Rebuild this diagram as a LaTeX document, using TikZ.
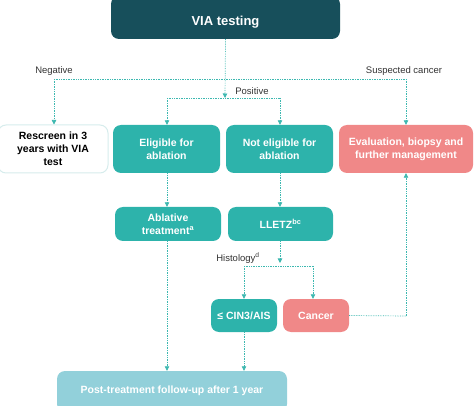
\documentclass[tikz,border=0pt]{standalone}
\usepackage{fontspec}
\setmainfont{Liberation Sans}
\usetikzlibrary{arrows.meta}
\definecolor{darkteal}{HTML}{174F5B}
\definecolor{teal}{HTML}{2DB3AB}
\definecolor{pinkbox}{HTML}{F08888}
\definecolor{lightblue}{HTML}{92D0DA}
\definecolor{wborder}{HTML}{D6ECEC}
\definecolor{linecol}{HTML}{3DB8B0}
\definecolor{labcol}{HTML}{333333}
\begin{document}
\begin{tikzpicture}[x=1pt,y=-1pt,
  box/.style={rounded corners=8pt, align=center, inner sep=0pt, font=\bfseries\fontsize{10.5}{13}\selectfont, text=white},
  tealbox/.style={box, fill=teal},
  pinkb/.style={box, fill=pinkbox},
  conn/.style={draw=linecol, densely dotted, line width=0.7pt},
  arr/.style={conn, -{Triangle[width=4.5pt,length=4.5pt]}},
  lab/.style={font=\fontsize{9.5}{11}\selectfont, text=labcol, inner sep=0pt}
]
\useasboundingbox (0,0) rectangle (474,406);
% nodes
\node[box, fill=darkteal, minimum width=229pt, minimum height=43pt, font=\bfseries\fontsize{13}{15}\selectfont] (via) at (225.5,17.5) {\raisebox{-8pt}[0pt][0pt]{VIA testing}};
\node[box, fill=white, draw=wborder, line width=1pt, text=black, minimum width=110pt, minimum height=48pt] (res) at (53,149) {Rescreen in 3\\years with VIA\\test};
\node[tealbox, minimum width=107pt, minimum height=48pt] (eli) at (166.5,149) {Eligible for\\ablation};
\node[tealbox, minimum width=107pt, minimum height=48pt] (neli) at (279.5,149) {Not eligible for\\ablation};
\node[pinkb, minimum width=134pt, minimum height=48pt] (eval) at (406,149) {Evaluation, biopsy and\\further management};
\node[tealbox, minimum width=106pt, minimum height=34pt] (abl) at (168,224) {Ablative\\treatment\textsuperscript{a}};
\node[tealbox, minimum width=105pt, minimum height=34pt] (lletz) at (280.5,224) {LLETZ\textsuperscript{bc}};
\node[tealbox, minimum width=66pt, minimum height=33pt] (cin) at (244,315.5) {≤ CIN3/AIS};
\node[pinkb, minimum width=66pt, minimum height=33pt] (can) at (316,315.5) {Cancer};
\node[box, fill=lightblue, minimum width=230pt, minimum height=41pt] (post) at (172,391.5) {\raisebox{3pt}{Post-treatment follow-up after 1 year}};
% labels
\node[lab] (lneg) at (54,71) {Negative};
\node[lab] (lsus) at (404,71) {Suspected cancer};
\node[lab] (lpos) at (252,91) {Positive};
\node[lab] (lhis) at (238,258) {Histology\textsuperscript{d}};
% coordinates
\coordinate (tl) at (54,79);
\coordinate (tr) at (406,79);
\coordinate (pc) at (225,98);
\coordinate (pl) at (167,98);
\coordinate (pr) at (280,98);
\coordinate (hc) at (280,263);
\coordinate (hl) at (244,266);
\coordinate (hr) at (313,266);
\coordinate (cr) at (406,316);
% connectors
\draw[conn] (tl) -- (tr);
\draw[arr] (via.south) -- (pc);
\draw[arr] (tl) -- (res.north -| tl);
\draw[arr] (tr) -- (eval.north);
\draw[conn] (pl) -- (pr);
\draw[arr] (pl) -- (eli.north -| pl);
\draw[arr] (pr) -- (neli.north -| pr);
\draw[arr] (eli.south -| pl) -- (abl.north -| pl);
\draw[arr] (neli.south -| pr) -- (lletz.north -| pr);
\draw[arr] (lletz.south -| pr) -- (hc);
\draw[conn] (hl) -- (hr);
\draw[arr] (hl) -- (cin.north);
\draw[arr] (hr) -- (can.north -| hr);
\draw[conn] (can.east) -- (cr);
\draw[arr] (cr) -- (eval.south);
\draw[arr] (abl.south -| pl) -- (post.north -| pl);
\draw[arr] (cin.south) -- (post.north -| cin);
\end{tikzpicture}
\end{document}
